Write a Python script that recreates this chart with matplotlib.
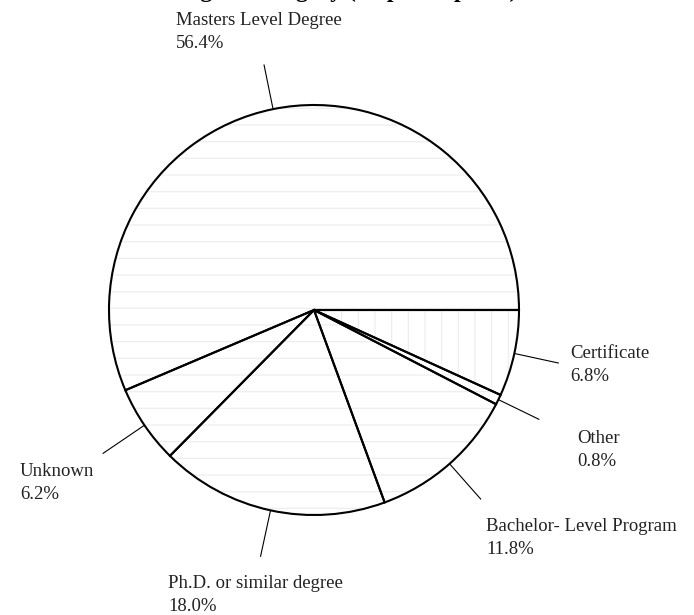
import matplotlib
matplotlib.use("Agg")
import matplotlib.pyplot as plt
import numpy as np

categories = ["Masters Level Degree", "Unknown", "Ph.D. or similar degree",
              "Bachelor- Level Program", "Other", "Certificate"]
values = [56.4, 6.2, 18.0, 11.8, 0.8, 6.8]
title = "Degree Category (all participants)"

W, H = 694, 615
fig = plt.figure(figsize=(W / 100, H / 100), dpi=100)
ax = fig.add_axes([0, 0, 1, 1])

cx, cy, R = 314, -310, 205
plt.rcParams['hatch.linewidth'] = 0.8
hatches = ["-", "-", "-", "-", "-", "|"]
# faint hatch fill
ax.pie(values, startangle=0, counterclock=True, center=(cx, cy), radius=R,
       colors=["white"] * len(values), hatch=hatches,
       wedgeprops=dict(edgecolor="#ededed", linewidth=0))
# outlines
wedges, _ = ax.pie(values, startangle=0, counterclock=True, center=(cx, cy), radius=R,
                   colors=["none"] * len(values),
                   wedgeprops=dict(edgecolor="black", linewidth=1.5))

ax.set_xlim(0, W)
ax.set_ylim(-H, 0)
ax.set_aspect("equal")
ax.axis("off")

# label layout: (outer radius of leader, text x, text y top)
layout = {
    "Masters Level Degree": (250, 176, 12),
    "Unknown": (255, 20, 463),
    "Ph.D. or similar degree": (252, 168, 575),
    "Bachelor- Level Program": (252, 486, 518),
    "Other": (250, 577, 430),
    "Certificate": (250, 570, 345),
}
font = dict(family="Liberation Serif", fontsize=13.5, color="#222222")
for w, cat, v in zip(wedges, categories, values):
    mid = np.deg2rad((w.theta1 + w.theta2) / 2)
    r2, tx, ty = layout[cat]
    x1, y1 = cx + (R + 1) * np.cos(mid), cy + (R + 1) * np.sin(mid)
    x2, y2 = cx + r2 * np.cos(mid), cy + r2 * np.sin(mid)
    ax.plot([x1, x2], [y1, y2], color="black", linewidth=0.8)
    ax.text(tx, -ty, f"{cat}\n{v:.1f}%", ha="left", va="top", linespacing=1.45, **font)

ax.text(345, 3, title, ha="center", va="baseline", family="Liberation Serif",
        fontsize=17, fontweight="bold")

fig.savefig("out.png", dpi=100)
